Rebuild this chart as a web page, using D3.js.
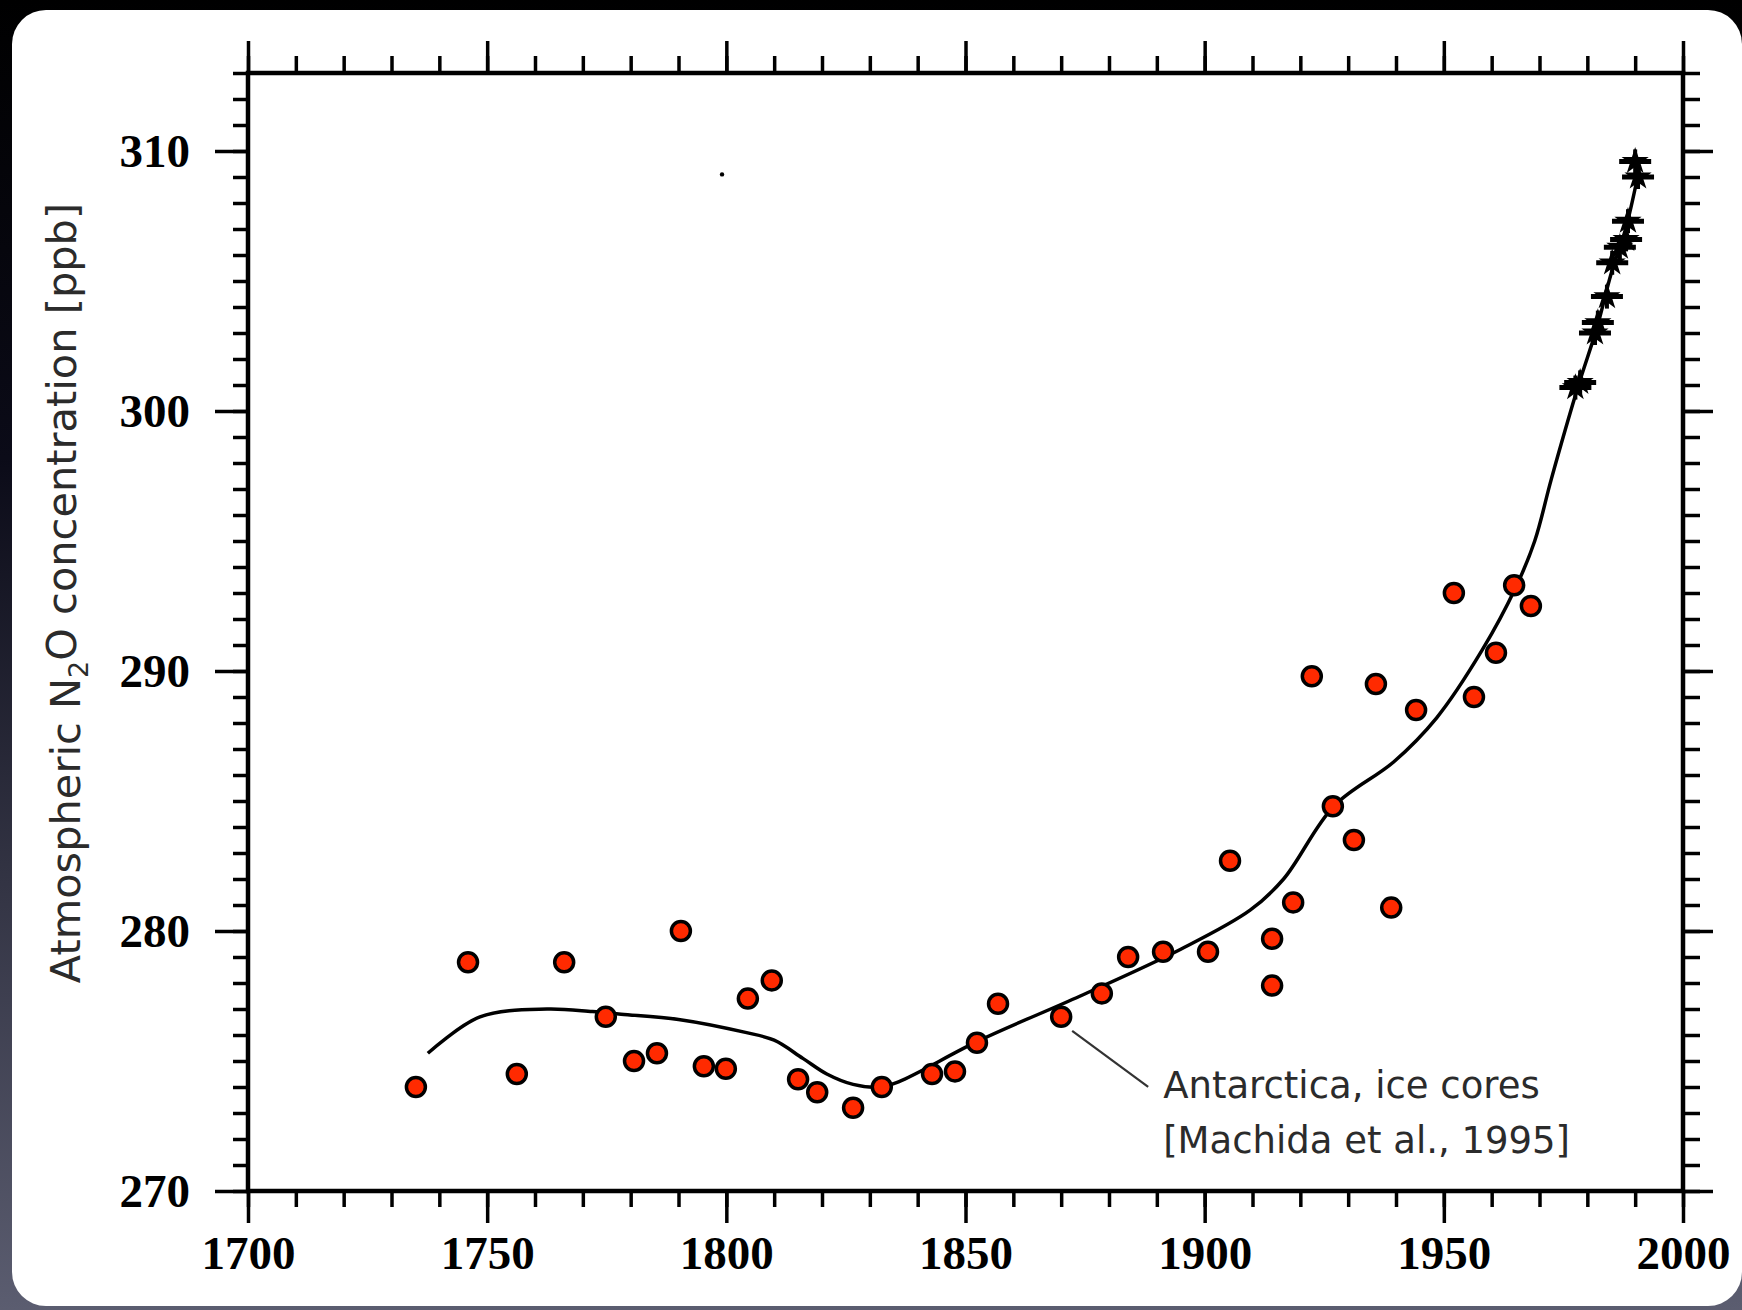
<!DOCTYPE html>
<html lang='en'>
<head>
  <meta charset="utf-8" />
  <title>Atmospheric N2O concentration</title>
  <script src="https://d3js.org/d3.v7.min.js"></script>
  <style>
    body { margin: 0; background: #000; }
    svg { display: block; }
  </style>
</head>
<body>
  <script>
	// ice core samples, Antarctica
	var coreYears = [1735.1, 1746.0, 1756.2, 1766.1, 1774.8, 1780.7, 1785.5, 1790.5, 1795.3, 1799.9,
		1804.5, 1809.5, 1815.0, 1819.0, 1826.5, 1832.5, 1843.0, 1847.8, 1852.4, 1856.8,
		1870.0, 1878.5, 1884.0, 1891.3, 1900.7, 1905.3, 1914.1, 1914.1, 1918.5, 1922.4,
		1926.8, 1931.2, 1935.8, 1939.0, 1944.2, 1952.1, 1956.3, 1960.9, 1964.7, 1968.2];
	var coreValues = [274.0, 278.8, 274.5, 278.8, 276.7, 275.0, 275.3, 280.0, 274.8, 274.7,
		277.4, 278.1, 274.3, 273.8, 273.2, 274.0, 274.5, 274.6, 275.7, 277.2,
		276.7, 277.6, 279.0, 279.2, 279.2, 282.7, 279.7, 277.9, 281.1, 289.8,
		284.8, 283.5, 289.5, 280.9, 288.5, 293.0, 289.0, 290.7, 293.3, 292.5];

	// direct atmospheric measurements (stars)
	var airYears = [1977.5, 1978.5, 1981.6, 1982.2, 1984.1, 1985.2, 1986.8, 1988.1, 1988.5, 1990.6, 1990.0];
	var airValues = [300.9, 301.1, 303.0, 303.4, 304.4, 305.7, 306.3, 306.6, 307.3, 309.0, 309.6];

	// smoothed fit
	var fitYears = [1737.6, 1748.5, 1762.5, 1772, 1778, 1790, 1804, 1810, 1816, 1821, 1826.5,
		1832, 1836, 1853, 1874, 1895, 1909.5, 1916.5, 1927, 1939.5, 1948.5,
		1958, 1965, 1969, 1972.5, 1978, 1982, 1985, 1988, 1990.5];
	var fitValues = [275.3, 276.7, 277.0, 276.9, 276.8, 276.6, 276.1, 275.8, 275.1, 274.5, 274.1,
		274.0, 274.2, 275.8, 277.5, 279.3, 280.8, 282.0, 284.8, 286.5, 288.2,
		290.8, 293.2, 295.0, 297.4, 300.9, 303.2, 305.3, 307.0, 309.0];

	// stray speck on the scan
	var speckYears = [1799.1];
	var speckValues = [309.1];

	var xTicks = [1700, 1750, 1800, 1850, 1900, 1950, 2000];
	var yTicks = [270, 280, 290, 300, 310];
	var xDomain = [1700, 2000];
	var yDomain = [270, 313];
	var noteLines = ["Antarctica, ice cores", "[Machida et al., 1995]"];
	var notePoint = [1870.0, 276.7];

	var w = 1742;
	var h = 1310;
	var plotLeft = 248, plotRight = 1683, plotTop = 73, plotBottom = 1191;

	var x = d3.scaleLinear().domain(xDomain).range([plotLeft, plotRight]);
	var y = d3.scaleLinear().domain(yDomain).range([plotBottom, plotTop]);

	var svg = d3.select("body")
				.append("svg")
				.attr("width", w)
				.attr("height", h);

	var defs = svg.append("defs");
	var grad = defs.append("linearGradient")
				.attr("id", "bg")
				.attr("x1", 0).attr("y1", 0)
				.attr("x2", 0).attr("y2", 1);
	grad.append("stop").attr("offset", "0%").attr("stop-color", "#000000");
	grad.append("stop").attr("offset", "35%").attr("stop-color", "#0b0b18");
	grad.append("stop").attr("offset", "100%").attr("stop-color", "#5b5d70");

	svg.append("rect")
		.attr("width", w)
		.attr("height", h)
		.attr("fill", "url(#bg)");

	svg.append("rect")
		.attr("x", 12)
		.attr("y", 10)
		.attr("width", w - 12)
		.attr("height", 1296)
		.attr("rx", 34)
		.attr("fill", "#ffffff");

	// axes: minor and major ticks on all four sides
	function tidy(g) {
		g.select(".domain").remove();
		g.selectAll("line").attr("stroke", "#000").attr("stroke-width", 3.5);
		g.selectAll("text")
			.attr("fill", "#000")
			.style("font-family", "'Liberation Serif', 'DejaVu Serif', serif")
			.style("font-weight", "bold")
			.style("font-size", "47px");
	}

	var minorX = d3.range(1700, 2001, 10);
	var minorY = d3.range(270, 314, 1);

	svg.append("g")
		.attr("transform", "translate(0," + plotBottom + ")")
		.call(d3.axisBottom(x).tickValues(minorX).tickSize(16).tickFormat(""))
		.call(tidy);
	svg.append("g")
		.attr("transform", "translate(0," + plotBottom + ")")
		.call(d3.axisBottom(x).tickValues(xTicks).tickSize(32).tickPadding(13).tickFormat(d3.format("d")))
		.call(tidy);

	svg.append("g")
		.attr("transform", "translate(0," + plotTop + ")")
		.call(d3.axisTop(x).tickValues(minorX).tickSize(17).tickFormat(""))
		.call(tidy);
	svg.append("g")
		.attr("transform", "translate(0," + plotTop + ")")
		.call(d3.axisTop(x).tickValues(xTicks).tickSize(32).tickFormat(""))
		.call(tidy);

	svg.append("g")
		.attr("transform", "translate(" + plotLeft + ",0)")
		.call(d3.axisLeft(y).tickValues(minorY).tickSize(15).tickFormat(""))
		.call(tidy);
	svg.append("g")
		.attr("transform", "translate(" + plotLeft + ",0)")
		.call(d3.axisLeft(y).tickValues(yTicks).tickSize(33).tickPadding(25).tickFormat(d3.format("d")))
		.call(tidy);

	svg.append("g")
		.attr("transform", "translate(" + plotRight + ",0)")
		.call(d3.axisRight(y).tickValues(minorY).tickSize(17).tickFormat(""))
		.call(tidy);
	svg.append("g")
		.attr("transform", "translate(" + plotRight + ",0)")
		.call(d3.axisRight(y).tickValues(yTicks).tickSize(30).tickFormat(""))
		.call(tidy);

	// frame
	svg.append("rect")
		.attr("x", plotLeft)
		.attr("y", plotTop)
		.attr("width", plotRight - plotLeft)
		.attr("height", plotBottom - plotTop)
		.attr("fill", "none")
		.attr("stroke", "#000")
		.attr("stroke-width", 4.5);

	// y label
	var yl = svg.append("text")
		.attr("transform", "translate(80,593) rotate(-90)")
		.attr("text-anchor", "middle")
		.attr("fill", "#2b2b2b")
		.style("font-family", "'DejaVu Sans', sans-serif")
		.style("font-size", "41.5px");
	yl.append("tspan").text("Atmospheric N");
	yl.append("tspan").attr("dy", "0.3em").style("font-size", "27px").text("2");
	yl.append("tspan").attr("dy", "-0.3em").text("O concentration [ppb]");

	// fit line
	var fit = fitYears.map(function(d, i){ return [d, fitValues[i]]; });
	var line = d3.line()
		.x(function(d){ return x(d[0]); })
		.y(function(d){ return y(d[1]); })
		.curve(d3.curveCatmullRom.alpha(0.5));

	svg.append("path")
		.datum(fit)
		.attr("d", line)
		.attr("fill", "none")
		.attr("stroke", "#000")
		.attr("stroke-width", 3.5);

	// leader line and note
	var px = x(notePoint[0]), py = y(notePoint[1]);
	svg.append("line")
		.attr("x1", px + 11).attr("y1", py + 14)
		.attr("x2", px + 87).attr("y2", py + 70)
		.attr("stroke", "#333")
		.attr("stroke-width", 2.2);

	svg.selectAll(".note")
		.data(noteLines)
		.enter()
		.append("text")
		.attr("class", "note")
		.attr("x", px + 102)
		.attr("y", function(d, i){ return py + 81 + i * 55; })
		.attr("fill", "#2b2b2b")
		.style("font-family", "'DejaVu Sans', sans-serif")
		.style("font-size", "37px")
		.text(function(d){ return d; });

	// ice core dots
	var cores = coreYears.map(function(d, i){ return [d, coreValues[i]]; });
	svg.selectAll(".core")
		.data(cores)
		.enter()
		.append("circle")
		.attr("class", "core")
		.attr("cx", function(d){ return x(d[0]); })
		.attr("cy", function(d){ return y(d[1]); })
		.attr("r", 9.5)
		.attr("fill", "#ff2a00")
		.attr("stroke", "#000")
		.attr("stroke-width", 3.5);

	// atmospheric stars
	var air = airYears.map(function(d, i){ return [d, airValues[i]]; });
	var star = d3.symbol().type(d3.symbolStar).size(230);
	var stars = svg.selectAll(".air")
		.data(air)
		.enter()
		.append("g")
		.attr("class", "air")
		.attr("transform", function(d){ return "translate(" + x(d[0]) + "," + y(d[1]) + ")"; });
	stars.append("line")
		.attr("x1", -16).attr("x2", 16)
		.attr("stroke", "#000")
		.attr("stroke-width", 5);
	stars.append("line")
		.attr("y1", -12).attr("y2", 12)
		.attr("stroke", "#000")
		.attr("stroke-width", 4);
	stars.append("path")
		.attr("d", star)
		.attr("fill", "#000");

	svg.selectAll(".speck")
		.data(speckYears)
		.enter()
		.append("circle")
		.attr("class", "speck")
		.attr("cx", function(d){ return x(d); })
		.attr("cy", function(d, i){ return y(speckValues[i]); })
		.attr("r", 2.2)
		.attr("fill", "#000");
  </script>
</body>
</html>
